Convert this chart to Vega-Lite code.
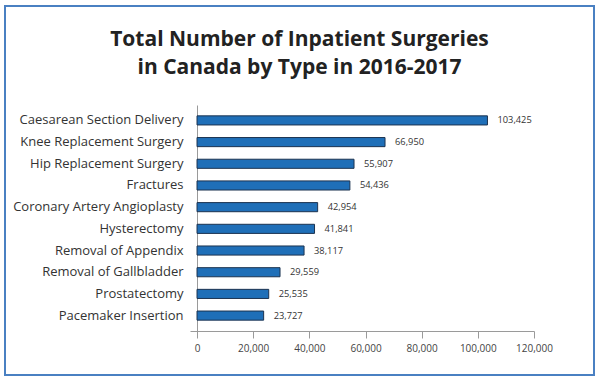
{
  "$schema": "https://vega.github.io/schema/vega-lite/v6.json",
  "autosize": {"type": "none"},
  "padding": {"left": 5, "top": 6, "right": 6, "bottom": 8},
  "width": 589,
  "height": 369,
  "background": "white",
  "config": {
    "view": {"stroke": "#4a80c2", "strokeWidth": 2},
    "font": "Open Sans"
  },
  "title": {
    "text": ["Total Number of Inpatient Surgeries", "in Canada by Type in 2016-2017"],
    "orient": "top",
    "anchor": "middle",
    "frame": "group",
    "baseline": "alphabetic",
    "offset": -89,
    "fontSize": 21,
    "fontWeight": "bold",
    "lineHeight": 28,
    "color": "#222222",
    "font": "Open Sans"
  },
  "data": {
    "values": [
      {"type": "Caesarean Section Delivery", "count": 103425},
      {"type": "Knee Replacement Surgery", "count": 66950},
      {"type": "Hip Replacement Surgery", "count": 55907},
      {"type": "Fractures", "count": 54436},
      {"type": "Coronary Artery Angioplasty", "count": 42954},
      {"type": "Hysterectomy", "count": 41841},
      {"type": "Removal of Appendix", "count": 38117},
      {"type": "Removal of Gallbladder", "count": 29559},
      {"type": "Prostatectomy", "count": 25535},
      {"type": "Pacemaker Insertion", "count": 23727}
    ]
  },
  "encoding": {
    "y": {
      "field": "type",
      "type": "nominal",
      "sort": null,
      "scale": {"range": [99, 325], "paddingInner": 0.58, "paddingOuter": 0.5},
      "axis": {
        "title": null,
        "offset": -192,
        "ticks": false,
        "domain": true,
        "domainColor": "#9a9a9a",
        "labelPadding": 14,
        "labelFontSize": 13,
        "labelColor": "#333333",
        "labelFont": "Open Sans"
      }
    },
    "x": {
      "field": "count",
      "type": "quantitative",
      "scale": {"domain": [-2500, 120000], "range": [185, 529], "nice": false, "zero": false},
      "axis": {
        "title": null,
        "offset": -44,
        "values": [0, 20000, 40000, 60000, 80000, 100000, 120000],
        "labelExpr": "format(datum.value, ',')",
        "labelFlush": false,
        "labelOverlap": false,
        "grid": false,
        "domainColor": "#9a9a9a",
        "tickColor": "#9a9a9a",
        "tickSize": 7,
        "labelPadding": 5,
        "labelFontSize": 10,
        "labelColor": "#444444",
        "labelFont": "Open Sans"
      }
    }
  },
  "layer": [
    {
      "mark": {"type": "bar", "fill": "#1f6fb8", "stroke": "#1c3350", "strokeWidth": 1},
      "encoding": {"x2": {"datum": 0}}
    },
    {
      "mark": {"type": "text", "align": "left", "baseline": "middle", "dx": 10, "fontSize": 9.3, "color": "#333333", "font": "Open Sans"},
      "encoding": {"text": {"field": "count", "type": "quantitative", "format": ","}}
    }
  ]
}
